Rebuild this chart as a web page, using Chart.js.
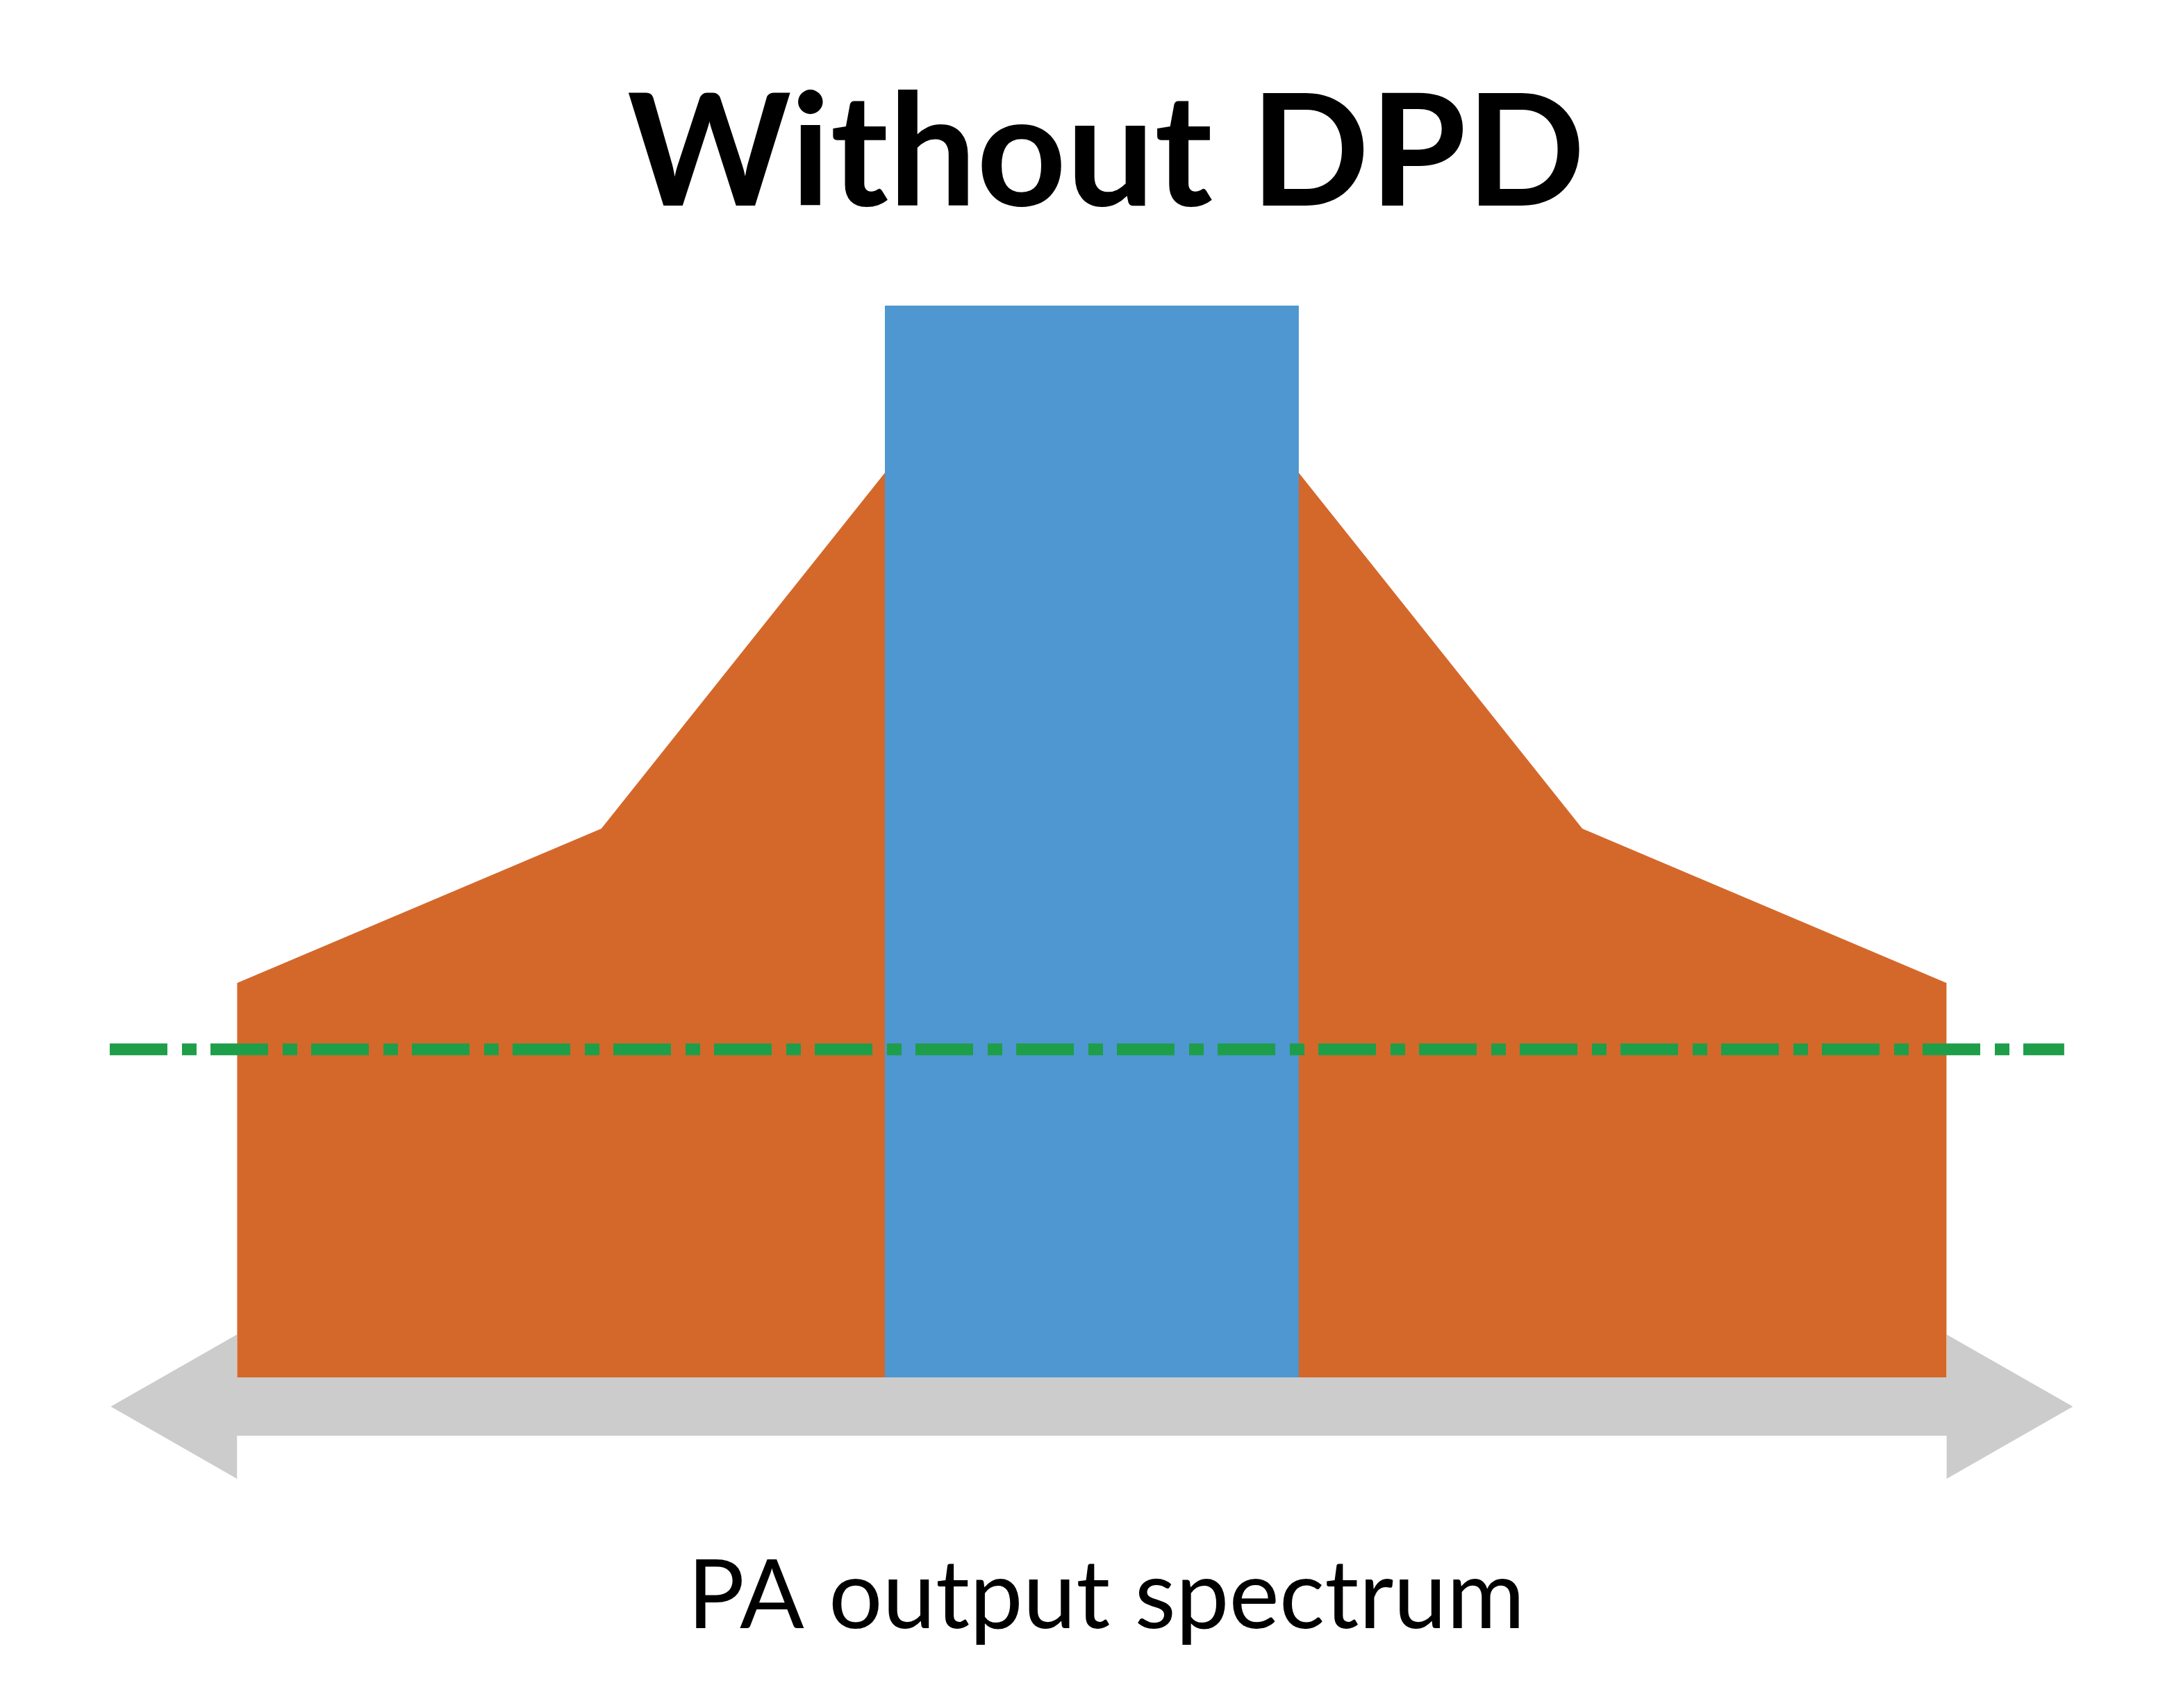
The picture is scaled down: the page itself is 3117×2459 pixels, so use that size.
<!DOCTYPE html>
<html>
<head>
<meta charset="utf-8">
<title>Without DPD</title>
<script src="https://cdn.jsdelivr.net/npm/chart.js@4.4.1/dist/chart.umd.min.js"></script>
<style>
  html, body { margin: 0; padding: 0; background: #ffffff; }
  canvas { display: block; }
</style>
</head>
<body>
<canvas id="spectrumChart" width="3117" height="2459"></canvas>
<script>
//==============================================================================
// data (x: frequency offset in MHz, y: level in dB above the floor) ===========
const titleText = 'Without DPD';
const axisLabelText = 'PA output spectrum';

// PA output with spectral regrowth (orange)
const regrowthX = [-41.3, -41.3, -23.7, -10, 10, 23.7, 41.3, 41.3];
const regrowthY = [0, 18.4, 25.6, 42.2, 42.2, 25.6, 18.4, 0];

// wanted channel (blue)
const channelX = [-10, -10, 10, 10];
const channelY = [0, 50, 50, 0];

// spectral mask limit (green dash-dot)
const limitX = [-47.45, 46.98];
const limitY = [15.3, 15.3];

// frequency axis double arrow (gray)
const arrowX = [-47.4, -41.3, -41.3, 41.3, 41.3, 47.4, 41.3, 41.3, -41.3, -41.3, -47.4];
const arrowY = [-1.36, 2.0, 0, 0, 2.0, -1.36, -4.73, -2.72, -2.72, -4.73, -1.36];

// axis limits
const xRange = [-50.47, 51.85];
const yRange = [-4.73, 50];

// colours
const regrowthColor = '#D4682B';
const channelColor = '#4E97D0';
const limitColor = '#1F9E4A';
const arrowColor = '#CCCCCC';

// x, y 배열 -> {x, y} 포인트
function toPoints(xArr, yArr){
    return xArr.map((x, i) => ({ x: x, y: yArr[i] }));
}

// filled shape dataset
function shapeDataset(label, xArr, yArr, color, fill, order){
    return {
        label: label,
        data: toPoints(xArr, yArr),
        showLine: true,
        fill: fill,
        backgroundColor: color,
        borderColor: 'rgba(0,0,0,0)',
        borderWidth: 0,
        pointRadius: 0,
        tension: 0,
        clip: false,
        order: order
    };
}

//==============================================================================
// chart =======================================================================
function createSpectrumChart(chartid){
    const ctx = document.getElementById(chartid);

    const datasets = [
        {
            label: 'limit',
            data: toPoints(limitX, limitY),
            showLine: true,
            fill: false,
            borderColor: limitColor,
            borderWidth: 17,
            borderDash: [83, 21, 21, 20],   // dash - dot
            borderCapStyle: 'butt',
            pointRadius: 0,
            clip: false,
            order: 1
        },
        shapeDataset('channel', channelX, channelY, channelColor, 'origin', 2),
        shapeDataset('regrowth', regrowthX, regrowthY, regrowthColor, 'origin', 3),
        shapeDataset('axis', arrowX, arrowY, arrowColor, 'shape', 4)
    ];

    return new Chart(ctx, {
        type: 'scatter',
        data: { datasets: datasets },
        options: {
            responsive: false,
            animation: false,
            devicePixelRatio: 1,
            layout: { padding: { left: 68, right: 0, top: 0, bottom: 0 } },
            scales: {
                x: { type: 'linear', min: xRange[0], max: xRange[1], display: false },
                y: { type: 'linear', min: yRange[0], max: yRange[1], display: false }
            },
            plugins: {
                legend: { display: false },
                tooltip: { enabled: false },
                title: {
                    display: true,
                    text: titleText,
                    color: '#000000',
                    font: { family: 'Lato', size: 225, weight: 'bold', lineHeight: 1 },
                    padding: { top: 111, bottom: 104 }
                },
                subtitle: {
                    display: true,
                    position: 'bottom',
                    text: axisLabelText,
                    color: '#000000',
                    font: { family: 'Lato', size: 137, weight: 'normal', lineHeight: 1 },
                    padding: { top: 102, bottom: 91 }
                }
            }
        }
    });
}

createSpectrumChart('spectrumChart');
</script>
</body>
</html>
